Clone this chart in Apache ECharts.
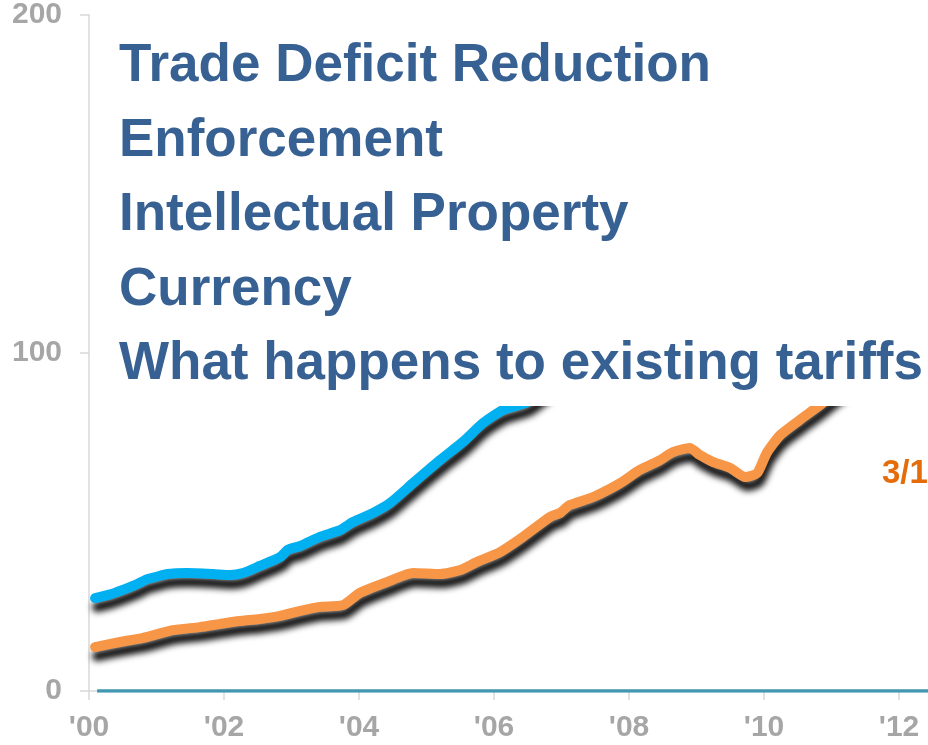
<!DOCTYPE html>
<html>
<head>
<meta charset="utf-8">
<style>
  html, body { margin: 0; padding: 0; background: #ffffff; overflow: hidden; }
  #chart { width: 1100px; height: 745px; }
</style>
<script src="https://cdn.jsdelivr.net/npm/echarts@6/dist/echarts.min.js"></script>
</head>
<body>
<div id="chart"></div>
<script>
// Blue series: decimal year and value
const blueYears = [2000.09, 2000.3, 2000.5, 2000.7, 2000.86, 2001.0, 2001.16, 2001.45, 2001.84,
  2002.09, 2002.28, 2002.53, 2002.83, 2002.95, 2003.13, 2003.42, 2003.72, 2003.91, 2004.21,
  2004.46, 2004.8, 2005.2, 2005.54, 2005.84, 2006.13, 2006.49, 2006.8, 2007.2, 2007.6, 2008.0,
  2008.5, 2008.8, 2009.1, 2009.4, 2009.8, 2010.2, 2010.6, 2011.0, 2011.5, 2012.0, 2012.3];
const blueValues = [27.5, 28.5, 29.9, 31.5, 33.1, 33.8, 34.6, 34.9, 34.6,
  34.3, 34.9, 37.0, 39.6, 41.8, 42.9, 45.6, 47.6, 50.0, 52.7,
  55.6, 61.5, 68.3, 73.7, 79.3, 83.1, 85.4, 90, 97, 104, 111,
  118, 121, 112, 105, 110, 120, 130, 137, 142, 146, 148];

// Orange series: decimal year and value
const orangeYears = [2000.09, 2000.46, 2000.8, 2001.24, 2001.64, 2001.93, 2002.23, 2002.53, 2002.83,
  2003.13, 2003.42, 2003.76, 2004.01, 2004.41, 2004.8, 2005.2, 2005.5, 2005.75, 2006.09, 2006.43,
  2006.83, 2006.98, 2007.12, 2007.47, 2007.87, 2008.16, 2008.46, 2008.65, 2008.9, 2009.05, 2009.24,
  2009.5, 2009.72, 2009.9, 2010.04, 2010.24, 2010.53, 2010.83, 2011.1, 2011.5, 2011.9, 2012.2, 2012.5];
const orangeValues = [13.0, 14.5, 15.7, 18.0, 18.9, 19.8, 20.7, 21.3, 22.2,
  23.7, 24.9, 25.4, 29.0, 32.2, 34.9, 34.6, 35.8, 38.2, 41.1, 45.6,
  51.5, 52.7, 55.0, 57.4, 61.5, 65.4, 68.3, 70.7, 71.9, 69.8, 67.8,
  66.0, 63.3, 64.5, 70.4, 75.7, 80.2, 84.6, 89, 95, 100, 103, 105];

// Zero reference line
const zeroYears = [2000.12, 2014];
const zeroValues = [0, 0];

// Axis ticks and labels
const xTickYears = [2000, 2002, 2004, 2006, 2008, 2010, 2012, 2014];
const xTickLabels = ["'00", "'02", "'04", "'06", "'08", "'10", "'12", "'14"];
const yTickValues = [0, 100, 200];

// Text list shown over the upper chart area
const topicLines = [
  'Trade Deficit Reduction',
  'Enforcement',
  'Intellectual Property',
  'Currency',
  'What happens to existing tariffs'
];
const endLabel = '3/12';

const pair = (xs, ys) => xs.map((x, i) => [x, ys[i]]);

const chart = echarts.init(document.getElementById('chart'), null, { renderer: 'canvas', width: 1100, height: 745 });

const lineShadow = {
  shadowColor: 'rgba(0,0,0,0.95)',
  shadowBlur: 6,
  shadowOffsetX: 2,
  shadowOffsetY: 9
};

const font = '"Liberation Sans", Arial, Helvetica, sans-serif';

const graphics = [
  {
    type: 'rect',
    z: 100,
    shape: { x: 100, y: 0, width: 1000, height: 406 },
    style: { fill: '#ffffff' },
    silent: true
  }
];
const lineCenters = [66, 141, 215, 290, 364];
topicLines.forEach((t, i) => {
  graphics.push({
    type: 'text',
    z: 101,
    x: 119,
    y: lineCenters[i],
    style: {
      text: t,
      fill: '#386193',
      font: 'bold 53px ' + font,
      verticalAlign: 'middle',
      align: 'left'
    },
    silent: true
  });
});
graphics.push({
  type: 'text',
  z: 101,
  x: 882,
  y: 474,
  style: {
    text: endLabel,
    fill: '#e46c0a',
    font: 'bold 33px ' + font,
    verticalAlign: 'middle',
    align: 'left'
  },
  silent: true
});

chart.setOption({
  animation: false,
  backgroundColor: '#ffffff',
  grid: { left: 89, top: 15, width: 945, height: 676, containLabel: false },
  xAxis: {
    type: 'value',
    min: 2000,
    max: 2014,
    interval: 2,
    axisLine: { show: true, lineStyle: { color: '#d9d9d9', width: 1.5 } },
    axisTick: { show: true, inside: false, length: 9, lineStyle: { color: '#d9d9d9', width: 1.5 } },
    splitLine: { show: false },
    axisLabel: {
      margin: 22,
      color: '#a6a6a6',
      fontWeight: 'bold',
      fontSize: 30,
      fontFamily: font,
      formatter: v => {
        const idx = xTickYears.indexOf(Math.round(v));
        return idx >= 0 ? xTickLabels[idx] : '';
      }
    }
  },
  yAxis: {
    type: 'value',
    min: 0,
    max: 200,
    interval: 100,
    axisLine: { show: true, lineStyle: { color: '#d9d9d9', width: 1.5 } },
    axisTick: { show: true, inside: false, length: 9, lineStyle: { color: '#d9d9d9', width: 1.5 } },
    splitLine: { show: false },
    axisLabel: {
      margin: 27,
      color: '#a6a6a6',
      fontWeight: 'bold',
      fontSize: 30,
      fontFamily: font,
      formatter: v => (yTickValues.includes(v) ? String(v) : '')
    }
  },
  series: [
    {
      type: 'line',
      data: pair(zeroYears, zeroValues),
      showSymbol: false,
      lineStyle: { color: '#4197b0', width: 3.5 },
      z: 2
    },
    {
      type: 'line',
      data: pair(blueYears, blueValues),
      showSymbol: false,
      smooth: 0.2,
      lineStyle: Object.assign({ color: '#00b0f0', width: 10, cap: 'round', join: 'round' }, lineShadow),
      z: 3
    },
    {
      type: 'line',
      data: pair(orangeYears, orangeValues),
      showSymbol: false,
      smooth: 0.2,
      lineStyle: Object.assign({ color: '#f79646', width: 10, cap: 'round', join: 'round' }, lineShadow),
      z: 3
    }
  ],
  graphic: graphics
});
</script>
</body>
</html>
